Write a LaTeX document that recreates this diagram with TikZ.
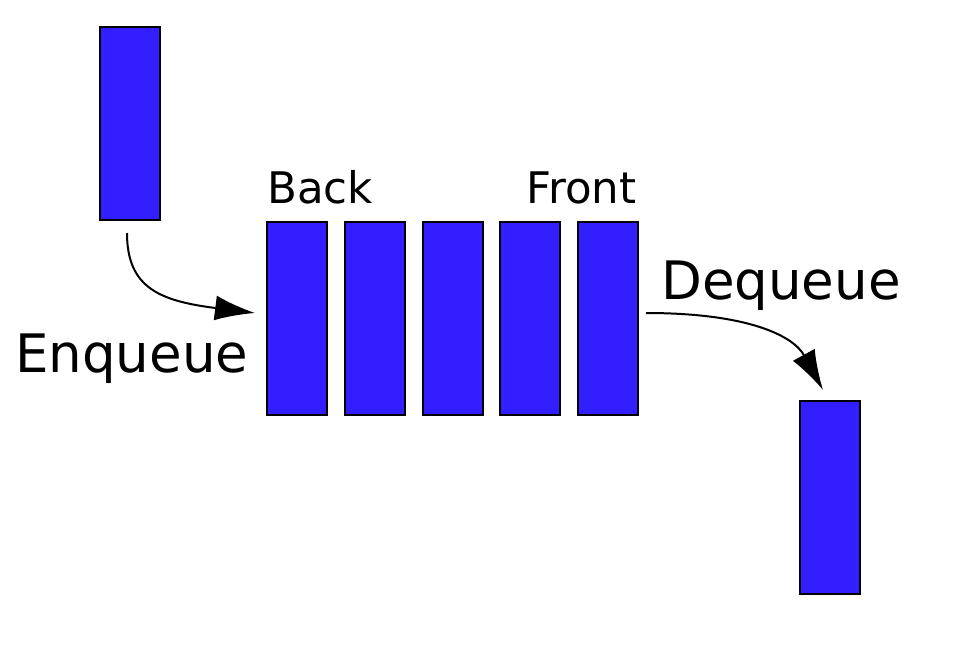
\documentclass[tikz,border=0pt]{standalone}
\usepackage{fontspec}
\setmainfont{DejaVu Sans}
\usetikzlibrary{arrows.meta}
\definecolor{qblue}{RGB}{51,30,255}
\begin{document}
\begin{tikzpicture}[x=1pt,y=-1pt,
  item/.style={draw=black,line width=2pt,fill=qblue,minimum width=60pt,minimum height=193pt,inner sep=0pt,outer sep=0pt},
  lbl/.style={inner sep=0pt,anchor=base west,font=\fontsize{43.5}{50}\selectfont},
  biglbl/.style={inner sep=0pt,anchor=base west,font=\fontsize{53}{60}\selectfont},
  flow/.style={line width=2pt,-{Latex[length=40pt,width=25pt]}}]
\useasboundingbox (0,0) rectangle (968,648);
\node[item] (in) at (130,123.5) {};
\node[item] (q1) at (297,318.5) {};
\node[item] (q2) at (375,318.5) {};
\node[item] (q3) at (453,318.5) {};
\node[item] (q4) at (530,318.5) {};
\node[item] (q5) at (608,318.5) {};
\node[item] (out) at (830,497.5) {};
\node[lbl] (back) at (267,203) {Back};
\node[lbl] (front) at (526,203) {Front};
\node[biglbl] (enq) at (15,372) {Enqueue};
\node[biglbl] (deq) at (661,299) {Dequeue};
\coordinate (es) at ([xshift=-3pt,yshift=-13pt]in.south);
\coordinate (ee) at ([xshift=-12pt,yshift=5.5pt]q1.west);
\coordinate (ds) at ([xshift=8pt,yshift=5.5pt]q5.east);
\coordinate (de) at ([xshift=-7pt,yshift=11pt]out.north);
\draw[flow] (es) .. controls ([yshift=-55pt]es) and ([xshift=-95pt,yshift=12pt]ee) .. (ee);
\draw[flow] (ds) .. controls ([xshift=100pt]ds) and ([xshift=-30pt,yshift=55pt]de) .. (de);
\end{tikzpicture}
\end{document}
